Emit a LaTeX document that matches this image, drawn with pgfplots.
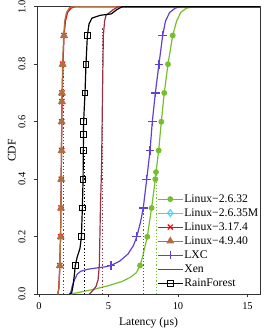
\documentclass[border=0pt]{standalone}
\usepackage{pgfplots}
\pgfplotsset{compat=1.18}
\usepackage{fontspec}
\setmainfont{Liberation Serif}
\definecolor{cgreen}{RGB}{118,190,48}
\definecolor{cblue}{RGB}{95,65,215}
\definecolor{cbrown}{RGB}{175,112,65}
\definecolor{cxen}{RGB}{150,50,70}
\definecolor{ccyan}{RGB}{60,210,255}
\begin{document}
\begin{tikzpicture}[x=1bp,y=1bp]
\useasboundingbox (0,0) rectangle (275,331);
\begin{axis}[
 at={(37bp,36.7bp)}, anchor=south west,
 width=223bp, height=287.6bp, scale only axis,
 xmin=-0.144, xmax=15.9, ymin=0, ymax=1,
 xtick={0,5,10,15}, ytick={0,0.2,0.4,0.6,0.8,1},
 tick align=outside, xtick pos=bottom, ytick pos=left,
 major tick length=3bp,
 axis line style={line width=0.6pt, black!80},
 every tick/.style={black!80, line width=0.6pt},
 /pgf/number format/assume math mode=true,
 tick label style={font=\fontsize{10.5}{12}\selectfont},
 xticklabel style={yshift=-2bp},
 yticklabel style={rotate=90, anchor=south, yshift=5bp, /pgf/number format/fixed, /pgf/number format/fixed zerofill, /pgf/number format/precision=1},
 label style={font=\fontsize{11.7}{14}\selectfont},
 xlabel={Latency (μs)}, ylabel={CDF},
 xlabel style={at={(axis description cs:0.5,0)}, anchor=center, yshift=-28.4bp},
 ylabel style={at={(axis description cs:0,0.5)}, anchor=center, yshift=25.3bp},
 legend style={draw=none, fill=none, at={(0.538,0.356)}, anchor=north west,
   font=\fontsize{11.7}{14}\selectfont, row sep=0pt,
   inner xsep=0pt, inner ysep=0pt,
   nodes={inner sep=1bp, text height=9bp, text depth=3bp}},
 legend cell align=left,
 legend image code/.code={\draw[mark repeat=2,mark phase=2,#1] plot coordinates {(0bp,0bp) (12.5bp,0bp) (25bp,0bp)};},
 every axis plot/.append style={line width=1.2pt},
]
% Linux-2.6.32 (green)
\addplot[cgreen, forget plot] coordinates {(2.2,0) (3,0.008) (4,0.018) (5,0.03) (6,0.045) (6.6,0.06) (7.0,0.075) (7.27,0.1) (7.45,0.13) (7.79,0.2) (8.1,0.3) (8.37,0.4) (8.42,0.425) (8.61,0.5) (8.8,0.6) (9.01,0.7) (9.28,0.8) (9.62,0.9) (9.9,0.95) (10.2,0.98) (10.6,0.995) (11.2,1.0) (16,1)};
\addplot[cgreen, only marks, mark=*, mark size=2.3bp, forget plot] coordinates {(7.27,0.1) (7.79,0.2) (8.1,0.3) (8.37,0.4) (8.42,0.425) (8.61,0.5) (8.8,0.6) (9.01,0.7) (9.28,0.8) (9.62,0.9)};
\addplot[cgreen, dotted, line width=0.9pt, forget plot] coordinates {(8.45,0) (8.45,0.43)};
% Linux-2.6.35M (cyan, hidden under red)
\addplot[ccyan, forget plot] coordinates {(1.35,0) (1.42,0.02) (1.48,0.08) (1.55,0.2) (1.6,0.4) (1.65,0.65) (1.72,0.8) (1.8,0.9) (1.9,0.95) (2.05,0.98) (2.3,0.995) (2.6,1) (16,1)};
% Linux-3.17.4 (red)
\addplot[red, forget plot] coordinates {(1.35,0) (1.42,0.02) (1.48,0.08) (1.55,0.2) (1.6,0.4) (1.65,0.65) (1.72,0.8) (1.8,0.9) (1.9,0.95) (2.05,0.98) (2.3,0.995) (2.6,1) (16,1)};
\addplot[red, only marks, mark=x, mark size=3.6bp, mark options={line width=1.2pt}, forget plot] coordinates {(1.5,0.1) (1.56,0.2) (1.58,0.3) (1.6,0.4) (1.63,0.5) (1.63,0.6) (1.65,0.67) (1.65,0.7) (1.7,0.8) (1.8,0.9)};
\addplot[red, dotted, line width=0.9pt, forget plot] coordinates {(1.75,0) (1.75,0.85)};
% Linux-4.9.40 (brown)
\addplot[cbrown, forget plot] coordinates {(1.36,0) (1.43,0.02) (1.49,0.08) (1.55,0.2) (1.6,0.4) (1.64,0.65) (1.7,0.8) (1.78,0.9) (1.85,0.95) (1.98,0.98) (2.2,0.997) (2.4,1) (16,1)};
\addplot[cbrown, only marks, mark=triangle*, mark size=3.5bp, forget plot] coordinates {(1.5,0.1) (1.56,0.2) (1.58,0.3) (1.6,0.4) (1.63,0.5) (1.63,0.6) (1.65,0.67) (1.65,0.7) (1.7,0.8) (1.8,0.9)};
% LXC (blue)
\addplot[cblue, forget plot] coordinates {(2.2,0) (2.3,0.01) (2.4,0.03) (2.55,0.05) (2.75,0.07) (3.0,0.08) (3.5,0.087) (4.2,0.092) (4.7,0.095) (5.18,0.1) (5.8,0.115) (6.4,0.14) (6.8,0.17) (7.03,0.2) (7.3,0.25) (7.5,0.3) (7.75,0.4) (7.99,0.5) (8.15,0.6) (8.37,0.7) (8.63,0.8) (8.9,0.9) (9.1,0.95) (9.4,0.98) (9.8,0.995) (10.2,1) (16,1)};
\addplot[cblue, only marks, mark=+, mark size=4.3bp, mark options={line width=1.2pt}, forget plot] coordinates {(5.18,0.1) (7.03,0.2) (7.5,0.3) (7.75,0.4) (7.99,0.5) (8.15,0.6) (8.37,0.7) (8.63,0.8) (8.9,0.9)};
\addplot[cblue, dotted, line width=0.9pt, forget plot] coordinates {(7.55,0) (7.55,0.3)};
% Xen
\addplot[cxen, forget plot] coordinates {(3.62,0) (3.9,0.015) (4.1,0.027) (4.25,0.05) (4.34,0.1) (4.42,0.3) (4.5,0.44) (4.57,0.7) (4.63,0.9) (4.72,0.95) (4.82,0.97) (5.35,0.99) (5.7,1) (16,1)};
\addplot[cxen, dotted, line width=0.9pt, forget plot] coordinates {(4.57,0) (4.57,0.93)};
% RainForest (black)
\addplot[black, forget plot] coordinates {(2.2,0) (2.35,0.005) (2.45,0.03) (2.55,0.07) (2.61,0.1) (2.75,0.13) (2.95,0.16) (3.05,0.2) (3.12,0.3) (3.17,0.4) (3.19,0.5) (3.21,0.6) (3.31,0.7) (3.38,0.8) (3.48,0.9) (3.6,0.94) (3.8,0.96) (4.4,0.97) (5.2,0.975) (5.6,0.99) (6,1) (16,1)};
\addplot[black, only marks, mark=square, mark size=2.9bp, mark options={line width=1pt}, forget plot] coordinates {(2.61,0.1) (3.05,0.2) (3.12,0.3) (3.17,0.4) (3.19,0.5) (3.21,0.557) (3.21,0.6) (3.31,0.7) (3.38,0.8) (3.48,0.9)};
\addplot[black, dotted, line width=0.9pt, forget plot] coordinates {(3.26,0) (3.26,0.5)};
% legend
\addlegendimage{cgreen, mark=*, mark size=2.3bp}
\addlegendentry{Linux−2.6.32}
\addlegendimage{ccyan, mark=diamond, mark size=3.4bp, mark options={line width=1pt}}
\addlegendentry{Linux−2.6.35M}
\addlegendimage{red, mark=x, mark size=3.6bp, mark options={line width=1.2pt}}
\addlegendentry{Linux−3.17.4}
\addlegendimage{cbrown, mark=triangle*, mark size=3.5bp}
\addlegendentry{Linux−4.9.40}
\addlegendimage{cblue, mark=+, mark size=4.3bp, mark options={line width=1.2pt}}
\addlegendentry{LXC}
\addlegendimage{cxen}
\addlegendentry{Xen}
\addlegendimage{black, mark=square, mark size=2.9bp, mark options={line width=1pt}}
\addlegendentry{RainForest}
\end{axis}
\end{tikzpicture}
\end{document}
